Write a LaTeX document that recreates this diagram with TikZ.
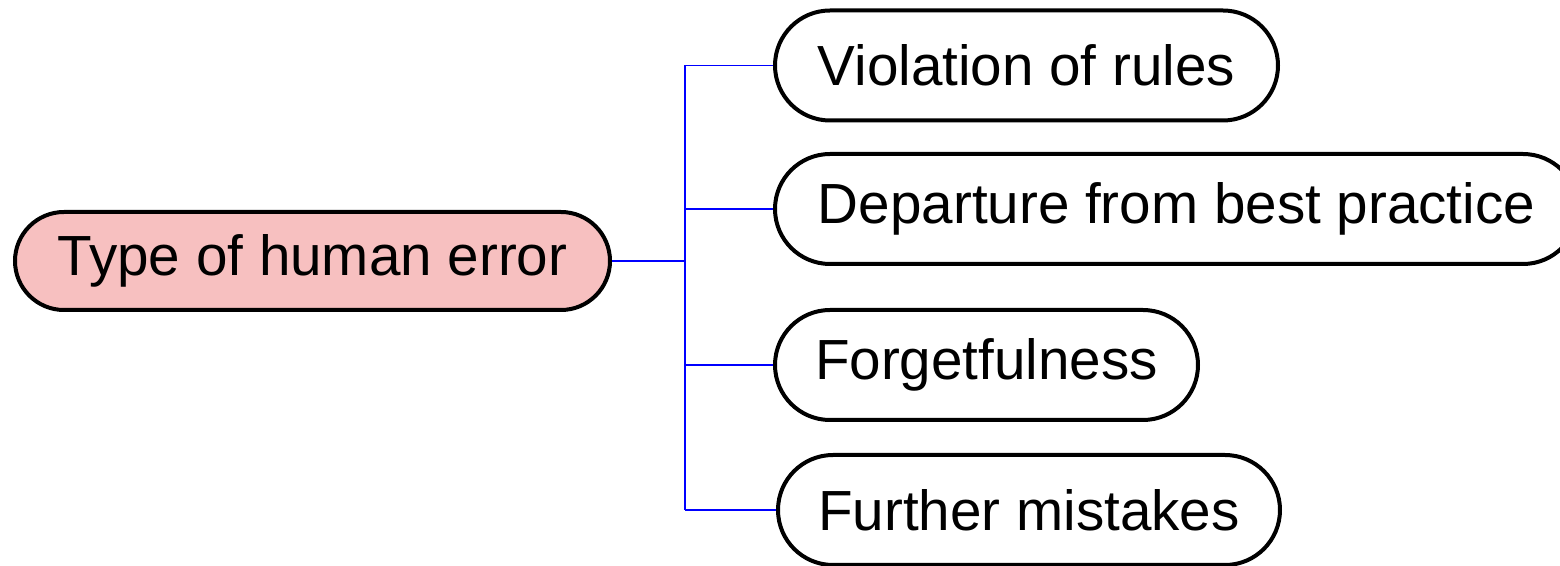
\documentclass[tikz,border=0pt]{standalone}
\usepackage{fontspec}
\setmainfont{Liberation Sans}
\definecolor{rootpink}{RGB}{247,192,192}
\definecolor{linkblue}{RGB}{0,0,255}
\begin{document}
\begin{tikzpicture}[x=0.5pt,y=-0.5pt,
  topic/.style={draw=black, line width=2pt, font=\fontsize{28.3}{32}\selectfont,
    inner sep=0pt, anchor=center},
  rootbox/.style={topic, fill=rootpink, minimum width=297.5pt, minimum height=49pt,
    rounded corners=24.5pt},
  leafbox/.style={topic, fill=white, minimum height=55pt, rounded corners=27.5pt},
  trunk/.style={draw=linkblue, line width=1.2pt},
  branch/.style={draw=linkblue, line width=0.8pt}]
  \useasboundingbox (0,0) rectangle (1560,566);

  \node[rootbox] (root) at (312.5,261) {Type of human error};

  \node[leafbox, minimum width=251.5pt] (rules)   at (1026.5,65.5) {Violation of rules};
  \node[leafbox, minimum width=401.5pt] (best)    at (1176.5,209)  {Departure from best practice};
  \node[leafbox, minimum width=211.5pt] (forget)  at (986.5,365)   {Forgetfulness};
  \node[leafbox, minimum width=251pt]   (further) at (1029,510)    {Further mistakes};

  % shared vertical bus
  \coordinate (bus) at (685,261);
  \draw[trunk] (root.east) -- (bus);
  \draw[branch] (bus |- rules.west) -- (bus |- further.west);
  \foreach \n in {rules,best,forget,further}
    \draw[branch] (bus |- \n.west) -- (\n.west);
\end{tikzpicture}
\end{document}
